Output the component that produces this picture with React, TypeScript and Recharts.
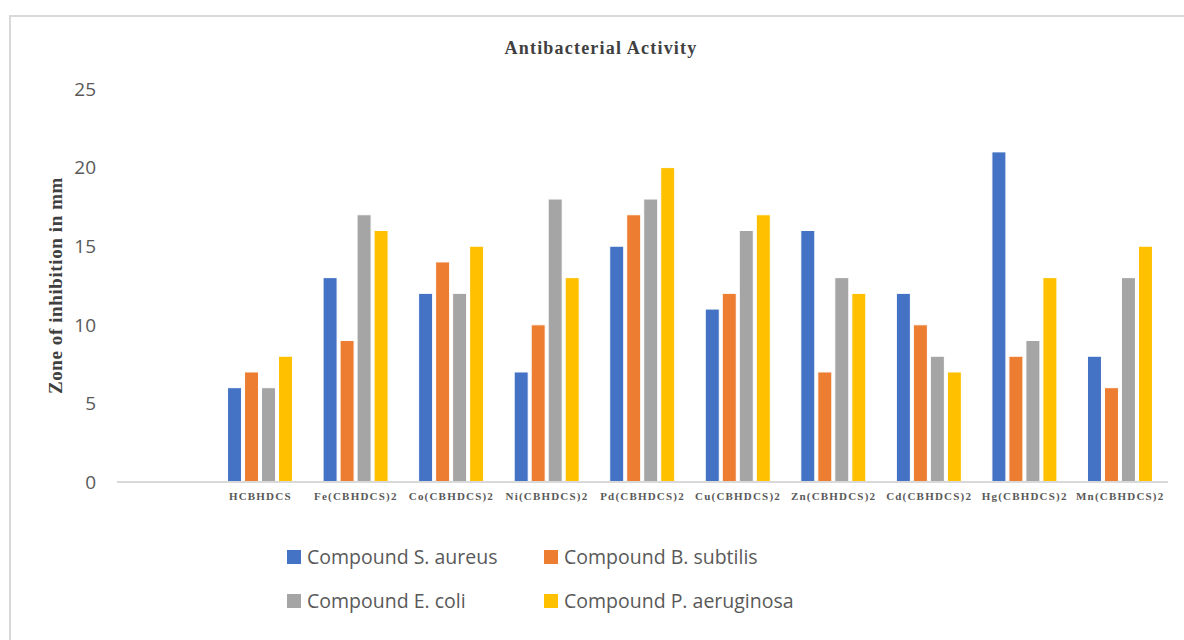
import { BarChart, Bar, XAxis, YAxis } from "recharts";

const compounds = [
  "",
  "HCBHDCS",
  "Fe(CBHDCS)2",
  "Co(CBHDCS)2",
  "Ni(CBHDCS)2",
  "Pd(CBHDCS)2",
  "Cu(CBHDCS)2",
  "Zn(CBHDCS)2",
  "Cd(CBHDCS)2",
  "Hg(CBHDCS)2",
  "Mn(CBHDCS)2",
];
const sAureus = [null, 6, 13, 12, 7, 15, 11, 16, 12, 21, 8];
const bSubtilis = [null, 7, 9, 14, 10, 17, 12, 7, 10, 8, 6];
const eColi = [null, 6, 17, 12, 18, 18, 16, 13, 8, 9, 13];
const pAeruginosa = [null, 8, 16, 15, 13, 20, 17, 12, 7, 13, 15];
const yTicks = [0, 5, 10, 15, 20, 25];

const series = [
  { key: "sa", name: "Compound S. aureus", color: "#4472C4" },
  { key: "bs", name: "Compound B. subtilis", color: "#ED7D31" },
  { key: "ec", name: "Compound E. coli", color: "#A5A5A5" },
  { key: "pa", name: "Compound P. aeruginosa", color: "#FFC000" },
];

const data = compounds.map((name, i) => ({
  name,
  sa: sAureus[i],
  bs: bSubtilis[i],
  ec: eColi[i],
  pa: pAeruginosa[i],
}));

function YLabel({ viewBox }: any) {
  const cy = viewBox.y + viewBox.height / 2;
  return (
    <text
      x={55}
      y={cy}
      transform={`rotate(-90, 55, ${cy})`}
      textAnchor="middle"
      dominantBaseline="central"
      style={{ fontFamily: "'Liberation Serif', serif", fontWeight: 700, fontSize: 19, fill: "#404040", letterSpacing: 0.6 }}
    >
      Zone of inhibition in mm
    </text>
  );
}

export default function App() {
  return (
    <div style={{ position: "absolute", left: 0, top: 0, width: 1184, height: 640, overflow: "hidden", background: "#fff" }}>
      <div style={{
        position: "absolute", left: 9, top: 15, width: 1200, height: 700,
        border: "2px solid #d9d9d9", boxSizing: "border-box",
      }} />
      <div style={{
        position: "absolute", left: 400, top: 38, width: 402, textAlign: "center",
        fontFamily: "'Liberation Serif', serif", fontWeight: 700, fontSize: 18,
        color: "#404040", letterSpacing: 1.2,
      }}>
        Antibacterial Activity
      </div>
      <div style={{ position: "absolute", left: 0, top: 0 }}>
        <BarChart
          width={1184}
          height={640}
          data={data}
          margin={{ top: 89, right: 16, bottom: 128, left: 0 }}
          barCategoryGap={15}
          barGap={3}
        >
          <XAxis
            dataKey="name"
            interval={0}
            tickLine={false}
            axisLine={{ stroke: "#d9d9d9", strokeWidth: 2 }}
            tickMargin={4}
            height={30}
            tick={{ fill: "#595959", fontSize: 11, fontWeight: 700, fontFamily: "'Liberation Serif', serif", letterSpacing: 1.2 }}
          />
          <YAxis
            width={117}
            domain={[0, 25]}
            ticks={yTicks}
            axisLine={false}
            tickLine={false}
            tickMargin={15}
            tick={{ fill: "#595959", fontSize: 19, fontFamily: "'Open Sans', sans-serif" }}
            label={<YLabel />}
          />
          {series.map((s) => (
            <Bar
              key={s.key}
              dataKey={s.key}
              name={s.name}
              fill={s.color}
              stroke="#fff"
              strokeWidth={1}
              isAnimationActive={false}
            />
          ))}
        </BarChart>
      </div>
      {series.map((s, i) => (
        <div
          key={s.key}
          style={{
            position: "absolute",
            left: i % 2 === 0 ? 287 : 544,
            top: i < 2 ? 543 : 587,
            display: "flex",
            alignItems: "center",
            fontFamily: "'Open Sans', sans-serif",
            fontSize: 19.5,
            color: "#595959",
            whiteSpace: "nowrap",
          }}
        >
          <span style={{ display: "inline-block", width: 14, height: 14, background: s.color, marginRight: 6 }} />
          {s.name}
        </div>
      ))}
    </div>
  );
}
